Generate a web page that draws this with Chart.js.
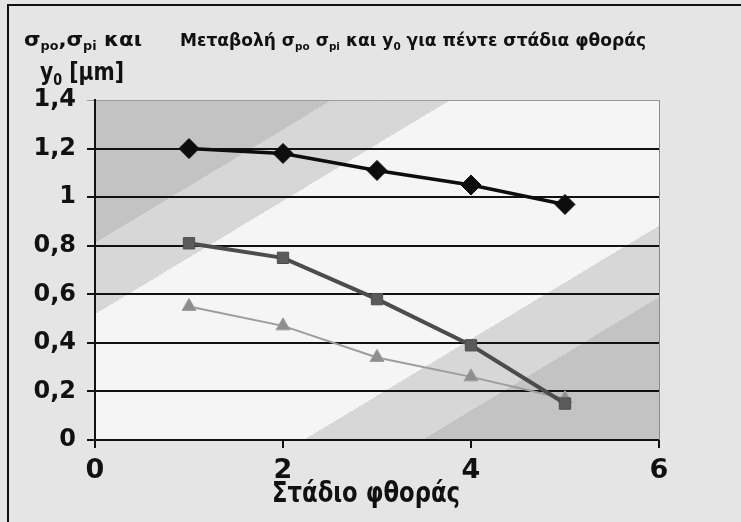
<!DOCTYPE html>
<html>
<head>
<meta charset="utf-8">
<script src="https://cdn.jsdelivr.net/npm/chart.js@4.4.1/dist/chart.umd.min.js"></script>
<style>
  html, body { margin: 0; padding: 0; background: #e5e5e5; }
</style>
</head>
<body>
<canvas id="c" width="741" height="522"></canvas>
<script>
// data
const stages = [1, 2, 3, 4, 5];
const sigmaPo = [1.2, 1.18, 1.11, 1.05, 0.97];
const sigmaPi = [0.81, 0.75, 0.58, 0.39, 0.15];
const y0Vals = [0.55, 0.47, 0.34, 0.26, 0.17];
const yTickLabels = ['0', '0,2', '0,4', '0,6', '0,8', '1', '1,2', '1,4'];
const xTickLabels = ['0', '2', '4', '6'];

const FONT = '"DejaVu Sans", "Liberation Sans", sans-serif';

const toPoints = (vals) => vals.map((v, i) => ({ x: stages[i], y: v }));

// text made of normal / subscript runs, squeezed to a given width
function drawRuns(ctx, runs, x, y, size, fitWidth) {
  ctx.save();
  const fontN = 'bold ' + size + 'px ' + FONT;
  const fontS = 'bold ' + Math.round(size * 0.62) + 'px ' + FONT;
  let total = 0;
  runs.forEach(([t, s]) => { ctx.font = s ? fontS : fontN; total += ctx.measureText(t).width; });
  ctx.translate(x, y);
  if (fitWidth) ctx.scale(fitWidth / total, 1);
  let cx = 0;
  ctx.fillStyle = '#111';
  ctx.textBaseline = 'alphabetic';
  runs.forEach(([t, s]) => {
    ctx.font = s ? fontS : fontN;
    ctx.fillText(t, cx, s ? size * 0.22 : 0);
    cx += ctx.measureText(t).width;
  });
  ctx.restore();
}

const backdrop = {
  id: 'backdrop',
  beforeDraw(chart) {
    const { ctx, chartArea: a } = chart;
    ctx.save();
    ctx.fillStyle = '#e5e5e5';
    ctx.fillRect(0, 0, chart.width, chart.height);
    // frame of the scanned figure (only left and top edges are in view)
    ctx.strokeStyle = '#111';
    ctx.lineWidth = 2;
    ctx.beginPath();
    ctx.moveTo(8, chart.height);
    ctx.lineTo(8, 5);
    ctx.lineTo(chart.width, 5);
    ctx.stroke();

    // stepped diagonal gradient of the plot area
    ctx.translate(a.left, a.top);
    ctx.scale(a.right - a.left, a.bottom - a.top);
    const g = ctx.createLinearGradient(0, 0, 1, 1);
    const dark = '#c3c3c3', mid = '#d7d7d7', light = '#f5f5f5';
    g.addColorStop(0, dark);   g.addColorStop(0.21, dark);
    g.addColorStop(0.21, mid); g.addColorStop(0.315, mid);
    g.addColorStop(0.315, light); g.addColorStop(0.685, light);
    g.addColorStop(0.685, mid); g.addColorStop(0.79, mid);
    g.addColorStop(0.79, dark); g.addColorStop(1, dark);
    ctx.fillStyle = g;
    ctx.fillRect(0, 0, 1, 1);
    ctx.restore();
  },
  beforeDatasetsDraw(chart) {
    const { ctx, chartArea: a } = chart;
    ctx.save();
    ctx.strokeStyle = '#8a8a8a';
    ctx.lineWidth = 1;
    ctx.beginPath();
    ctx.moveTo(a.right + 0.5, a.top);
    ctx.lineTo(a.right + 0.5, a.bottom);
    ctx.stroke();
    ctx.restore();
  },
  afterDraw(chart) {
    const ctx = chart.ctx;
    drawRuns(ctx, [['σ', 0], ['po', 1], [',', 0], ['σ', 0], ['pi', 1], [' και', 0]], 24, 46, 20, 118);
    drawRuns(ctx, [['Μεταβολή σ', 0], ['po', 1], [' σ', 0], ['pi', 1], [' και y', 0], ['0', 1],
                   [' για πέντε στάδια φθοράς', 0]], 180, 46, 18, 466);
    drawRuns(ctx, [['y', 0], ['0', 1], [' [μm]', 0]], 40, 80, 24, 84);
    drawRuns(ctx, [['Στάδιο φθοράς', 0]], 272, 502, 28, 188);
  }
};

new Chart(document.getElementById('c'), {
  type: 'line',
  data: {
    datasets: [
      {
        label: 'σpo',
        data: toPoints(sigmaPo),
        borderColor: '#0d0d0d',
        backgroundColor: '#0d0d0d',
        borderWidth: 3.5,
        pointStyle: 'rectRot',
        pointRadius: 10,
        pointBorderWidth: 1
      },
      {
        label: 'σpi',
        data: toPoints(sigmaPi),
        borderColor: '#4c4c4c',
        backgroundColor: '#5a5a5a',
        borderWidth: 4,
        pointStyle: 'rect',
        pointRadius: 8,
        pointBorderWidth: 1
      },
      {
        label: 'y0',
        data: toPoints(y0Vals),
        borderColor: '#9c9c9c',
        backgroundColor: '#8e8e8e',
        borderWidth: 2,
        pointStyle: 'triangle',
        pointRadius: 8,
        pointBorderWidth: 1
      }
    ]
  },
  options: {
    responsive: false,
    animation: false,
    devicePixelRatio: 1,
    layout: { padding: { top: 100, right: 82, left: 0, bottom: 0 } },
    plugins: {
      legend: { display: false },
      title: { display: false },
      tooltip: { enabled: false }
    },
    scales: {
      x: {
        type: 'linear',
        min: 0,
        max: 6,
        afterFit: (s) => { s.height = 82; },
        afterBuildTicks: (s) => { s.ticks = xTickLabels.map(t => ({ value: Number(t) })); },
        ticks: {
          padding: 7,
          color: '#111',
          font: { family: FONT, size: 27, weight: 'bold' },
          callback: (v, i) => xTickLabels[i]
        },
        grid: { drawOnChartArea: false, drawTicks: true, tickLength: 8, color: '#111', lineWidth: 2 },
        border: { display: true, color: '#111', width: 2 }
      },
      y: {
        min: 0,
        max: 1.4,
        afterFit: (s) => { s.width = 95; },
        ticks: {
          stepSize: 0.2,
          padding: 11,
          color: '#111',
          font: { family: FONT, size: 24, weight: 'bold' },
          callback: (v, i) => yTickLabels[i]
        },
        grid: {
          tickLength: 8,
          color: (c) => (c.index === 7 ? '#9a9a9a' : '#111'),
          lineWidth: (c) => (c.index === 7 ? 1 : 2)
        },
        border: { display: true, color: '#111', width: 2 }
      }
    }
  },
  plugins: [backdrop]
});
</script>
</body>
</html>
